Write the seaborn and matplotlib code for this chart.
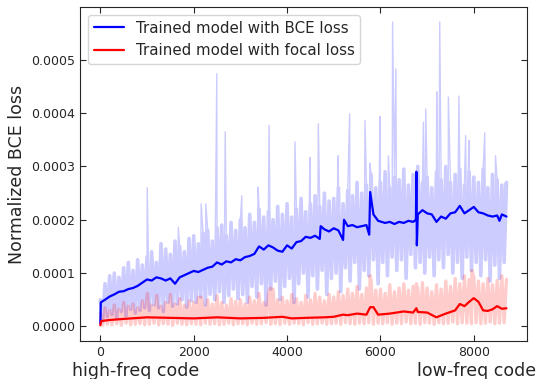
import numpy as np
import pandas as pd
import matplotlib
matplotlib.use("Agg")
import matplotlib.pyplot as plt
import seaborn as sns
from matplotlib.ticker import FormatStrFormatter

# all loss values below are in units of 1e-4
SCALE = 1e-4
STEP = 100  # sample spacing of the raw curves

# raw (noisy) loss, BCE model: peaks at x = 0, 100, ... and troughs at x = 50, 150, ...
bce_hi = [0.50, 0.80, 0.95, 1.00, 0.92, 1.10, 1.20, 1.05, 1.25, 1.15,
          1.30, 1.40, 1.20, 1.55, 1.45, 1.35, 1.60, 1.50, 1.40, 1.65,
          1.70, 1.55, 1.75, 1.80, 1.60, 1.85, 1.90, 1.70, 1.95, 1.80,
          2.00, 1.85, 2.10, 1.95, 2.20, 2.05, 2.15, 2.00, 2.25, 2.10,
          2.30, 2.05, 2.20, 2.40, 2.15, 2.30, 2.45, 2.25, 2.50, 2.35,
          2.40, 2.60, 2.30, 2.55, 2.45, 2.70, 2.50, 2.65, 2.85, 2.60,
          2.70, 2.90, 2.60, 2.80, 2.75, 2.95, 2.65, 2.85, 3.00, 2.70,
          2.80, 2.60, 2.90, 2.75, 3.00, 2.70, 2.85, 2.95, 2.65, 2.90,
          2.80, 2.70, 2.95, 2.60, 2.85, 2.75, 2.65, 2.70]
bce_lo = [0.10, 0.18, 0.22, 0.15, 0.28, 0.20, 0.32, 0.25, 0.30, 0.35,
          0.30, 0.40, 0.35, 0.28, 0.45, 0.38, 0.42, 0.50, 0.36, 0.48,
          0.45, 0.55, 0.40, 0.60, 0.50, 0.65, 0.45, 0.58, 0.70, 0.52,
          0.60, 0.45, 0.75, 0.55, 0.80, 0.40, 0.70, 0.85, 0.50, 0.75,
          0.90, 0.45, 0.80, 1.00, 0.55, 0.95, 0.70, 1.05, 0.60, 0.90,
          1.00, 0.65, 1.10, 0.85, 1.20, 0.70, 1.05, 0.95, 1.25, 0.80,
          1.20, 0.95, 1.30, 1.05, 1.25, 0.90, 1.35, 1.10, 1.20, 1.00,
          1.30, 0.95, 1.25, 1.10, 1.35, 1.00, 1.20, 0.90, 1.30, 1.05,
          1.20, 0.95, 1.25, 0.85, 1.15, 0.90, 1.20]
bce_spike_x = [1005, 1670, 2160, 2260, 2495, 2675, 3030, 3380, 3615, 4170,
               4490, 4670, 5095, 5340, 5670, 5775, 5990, 6170, 6260, 6330,
               6920, 6970, 7205, 7270, 7455, 7680, 7825, 7895, 8235, 8465, 8660]
bce_spike_y = [2.60, 1.86, 2.30, 2.30, 4.74, 3.65, 2.45, 2.61, 3.77, 3.46,
               3.17, 3.80, 3.20, 3.99, 3.86, 3.06, 3.94, 3.20, 5.71, 4.83,
               3.83, 4.08, 4.40, 5.71, 4.30, 4.32, 3.58, 3.49, 3.63, 3.20, 2.68]

# raw (noisy) loss, focal model
focal_hi = [0.25, 0.35, 0.30, 0.40, 0.32, 0.45, 0.38, 0.42, 0.35, 0.48,
            0.55, 0.40, 0.50, 0.38, 0.45, 0.60, 0.42, 0.52, 0.40, 0.48,
            0.45, 0.55, 0.38, 0.50, 0.42, 0.58, 0.45, 0.40, 0.52, 0.47,
            0.50, 0.42, 0.55, 0.48, 0.62, 0.45, 0.58, 0.70, 0.50, 0.55,
            0.48, 0.60, 0.52, 0.45, 0.58, 0.50, 0.62, 0.55, 0.48, 0.60,
            0.55, 0.65, 0.58, 0.70, 0.62, 0.75, 0.60, 0.72, 0.85, 0.68,
            0.70, 0.62, 0.78, 0.65, 0.72, 0.80, 0.68, 0.75, 0.70, 0.82,
            0.72, 0.65, 0.78, 0.70, 0.85, 0.75, 0.90, 0.80, 0.95, 0.88,
            0.92, 0.85, 0.80, 0.90, 0.78, 0.86, 0.95, 0.88]
focal_lo = [0.02, 0.04, 0.03, 0.05, 0.02, 0.06, 0.03, 0.04, 0.05, 0.03,
            0.04, 0.06, 0.03, 0.05, 0.04, 0.02, 0.06, 0.04, 0.03, 0.05,
            0.04, 0.03, 0.06, 0.04, 0.05, 0.03, 0.04, 0.06, 0.03, 0.05,
            0.05, 0.03, 0.06, 0.04, 0.05, 0.07, 0.04, 0.05, 0.03, 0.06,
            0.04, 0.06, 0.05, 0.03, 0.07, 0.04, 0.05, 0.06, 0.04, 0.05,
            0.06, 0.04, 0.07, 0.05, 0.04, 0.06, 0.05, 0.07, 0.04, 0.06,
            0.05, 0.07, 0.04, 0.06, 0.05, 0.08, 0.05, 0.06, 0.04, 0.07,
            0.06, 0.04, 0.07, 0.05, 0.06, 0.08, 0.05, 0.07, 0.06, 0.05,
            0.07, 0.05, 0.06, 0.08, 0.05, 0.06, 0.07]
focal_spike_x = [1010, 1210, 2160, 3640, 5780, 6770, 7960]
focal_spike_y = [0.62, 0.58, 0.55, 0.72, 0.95, 0.80, 1.05]

# smoothed curves
bce_smooth_x = [0, 10, 100, 200, 300, 400, 500, 600, 700, 800, 900, 1000, 1100, 1200,
                1300, 1400, 1500, 1600, 1700, 1800, 1900, 2000, 2100, 2200, 2300, 2400,
                2500, 2600, 2700, 2800, 2900, 3000, 3100, 3200, 3300, 3400, 3500, 3600,
                3700, 3800, 3900, 4000, 4100, 4200, 4300, 4400, 4500, 4600, 4700, 4720,
                4800, 4900, 5000, 5100, 5200, 5220, 5300, 5400, 5500, 5600, 5700, 5760,
                5780, 5850, 5950, 6100, 6200, 6300, 6400, 6500, 6600, 6700, 6760, 6770,
                6780, 6800, 6900, 7000, 7100, 7200, 7300, 7400, 7500, 7600, 7700, 7800,
                7900, 8000, 8100, 8200, 8300, 8400, 8500, 8550, 8600, 8700]
bce_smooth_y = [0.05, 0.45, 0.50, 0.56, 0.60, 0.65, 0.66, 0.70, 0.72, 0.76, 0.82, 0.88, 0.86, 0.92,
                0.90, 0.86, 0.90, 0.80, 0.92, 0.96, 1.00, 1.04, 1.02, 1.06, 1.10, 1.12,
                1.20, 1.16, 1.22, 1.20, 1.26, 1.24, 1.30, 1.32, 1.36, 1.50, 1.44, 1.52,
                1.48, 1.42, 1.40, 1.52, 1.46, 1.58, 1.60, 1.68, 1.66, 1.70, 1.64, 1.88,
                1.82, 1.78, 1.84, 1.80, 1.62, 2.00, 1.88, 1.90, 1.86, 1.88, 1.90, 1.72,
                2.52, 2.10, 1.98, 1.94, 1.96, 1.92, 1.96, 1.94, 1.98, 1.96, 2.00, 2.90,
                1.52, 2.10, 2.18, 2.12, 2.10, 1.96, 2.06, 2.02, 2.12, 2.14, 2.26, 2.12,
                2.18, 2.24, 2.14, 2.12, 2.08, 2.06, 2.08, 1.98, 2.10, 2.06]
focal_smooth_x = [0, 20, 200, 500, 1000, 1500, 2000, 2500, 3000, 3500, 3900, 4100, 4400,
                  4800, 5000, 5200, 5300, 5500, 5700, 5780, 5850, 5950, 6200, 6500, 6700,
                  6770, 6800, 7000, 7200, 7400, 7600, 7700, 7800, 7900, 8000, 8100, 8200,
                  8300, 8400, 8500, 8600, 8700]
focal_smooth_y = [0.02, 0.10, 0.12, 0.14, 0.17, 0.16, 0.15, 0.17, 0.15, 0.16, 0.18, 0.15, 0.16,
                  0.17, 0.18, 0.22, 0.21, 0.24, 0.22, 0.36, 0.36, 0.22, 0.24, 0.28, 0.26,
                  0.34, 0.27, 0.26, 0.17, 0.24, 0.30, 0.42, 0.38, 0.46, 0.53, 0.46, 0.30,
                  0.29, 0.32, 0.38, 0.33, 0.34]


def raw_curve(hi, lo, spike_x=(), spike_y=()):
    # peaks and troughs alternate, spikes are slotted in between
    x = np.concatenate([np.arange(len(hi)) * STEP,
                        np.arange(len(lo)) * STEP + STEP // 2,
                        spike_x])
    y = np.concatenate([hi, lo, spike_y]) * SCALE
    return pd.DataFrame({'x': x, 'y': y}).sort_values('x')


bce_raw = raw_curve(bce_hi, bce_lo, bce_spike_x, bce_spike_y)
bce_band = raw_curve(bce_hi, bce_lo)
focal_raw = raw_curve(focal_hi, focal_lo, focal_spike_x, focal_spike_y)
bce_smooth = pd.DataFrame({'x': bce_smooth_x, 'y': np.array(bce_smooth_y) * SCALE})
focal_smooth = pd.DataFrame({'x': focal_smooth_x, 'y': np.array(focal_smooth_y) * SCALE})

sns.set_style("ticks", {"xtick.direction": "in", "ytick.direction": "in",
                        "axes.edgecolor": "0.15"})
plt.rcParams['font.family'] = ['DejaVu Sans']

fig = plt.figure(figsize=(5.37, 3.79), dpi=100)
ax = fig.add_axes([0.149, 0.100, 0.832, 0.8815])

light_blue = '#ccccff'
# thin stroke for the spikes, wide stroke so the zig-zag reads as a filled band
sns.lineplot(data=bce_raw, x='x', y='y', ax=ax, color=light_blue, lw=1,
             sort=False, errorbar=None)
sns.lineplot(data=bce_band, x='x', y='y', ax=ax, color=light_blue, lw=2.6,
             sort=False, errorbar=None)
sns.lineplot(data=focal_raw, x='x', y='y', ax=ax, color='red', alpha=0.2, lw=2.4,
             sort=False, errorbar=None)
sns.lineplot(data=bce_smooth, x='x', y='y', ax=ax, color='blue', lw=1.6,
             sort=False, errorbar=None, label='Trained model with BCE loss')
sns.lineplot(data=focal_smooth, x='x', y='y', ax=ax, color='red', lw=1.6,
             sort=False, errorbar=None, label='Trained model with focal loss')

ax.set_xlim(-435, 9135)
ax.set_ylim(-0.276e-4, 5.99e-4)
ax.set_xticks([0, 2000, 4000, 6000, 8000])
ax.set_yticks([0, 1e-4, 2e-4, 3e-4, 4e-4, 5e-4])
ax.yaxis.set_major_formatter(FormatStrFormatter('%.4f'))
ax.tick_params(top=True, right=True, labelsize=9, length=4)
ax.set_xlabel('')
ax.set_ylabel('Normalized BCE loss', fontsize=12.5)
ax.legend(loc='upper left', fontsize=10.8)

fig.text(0.135, 0.008, 'high-freq code', fontsize=12.5, va='baseline')
fig.text(0.776, 0.008, 'low-freq code', fontsize=12.5, va='baseline')

fig.savefig('out.png', dpi=100)
